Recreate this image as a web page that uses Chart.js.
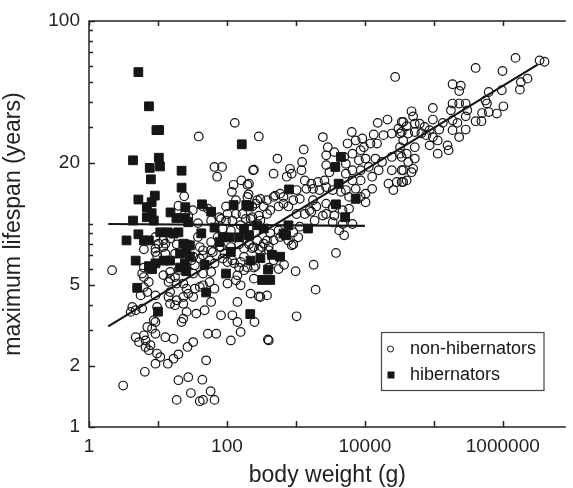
<!DOCTYPE html>
<html>
<head>
<meta charset="utf-8">
<title>Lifespan vs body weight</title>
<script src="https://cdn.jsdelivr.net/npm/chart.js@4.4.1/dist/chart.umd.min.js"></script>
<style>
  html, body { margin: 0; padding: 0; background: #fff; }
  #wrap { width: 573px; height: 488px; }
</style>
</head>
<body>
<div id="wrap"><canvas id="lifespan-chart" width="573" height="488"></canvas></div>
<script>
// Axis ticks (values) and which ones carry a label
const xTicks = [1, 10, 100, 1000, 10000, 100000, 1000000];
const xLabels = [1, 100, 10000, 1000000];
const yTicks = [1, 2, 3, 4, 5, 6, 7, 8, 9, 10, 20, 30, 40, 50, 60, 70, 80, 90, 100];
const yLabels = [1, 2, 5, 20, 100];

// Hibernators: body weight (g) and maximum lifespan (years)
const hibWeight = [5.2, 7.4, 9.5, 10.4, 4.35, 10.3, 7.6, 10.7, 7.9, 164, 22, 22, 9.0, 5.2, 8.1, 6.9, 8.1, 6.9, 8.7, 24.9,
  43.5, 59, 125, 191, 15.2, 4.35, 18.5, 24.9, 5.2, 3.5, 10.8, 13.8, 19.8, 42.5, 66, 275, 177, 6.25, 7.4, 87,
  108, 150, 4.75, 7.4, 9.2, 12.1, 15.0, 8.2, 20.9, 26, 29, 24.6, 25.7, 20.9, 23.3, 29, 47.5, 114, 97, 50,
  5.0, 10, 220, 218, 78, 306, 450, 590, 394, 324, 425, 660, 27.5, 16.8, 4500, 3730, 4170, 795, 7360, 3810,
  5180, 209, 342, 780, 1500, 720, 209];
const hibLifespan = [56, 38, 29, 29, 20.6, 21.2, 18.9, 19.2, 16.6, 24.7, 18.3, 15.1, 13.8, 13.2, 12.8, 12.1, 11.3, 10.8, 10.4, 12.1,
  12.5, 11.5, 12.4, 12.4, 11.4, 10.4, 10.7, 10.7, 8.9, 8.3, 9.1, 9.1, 9.1, 9.0, 9.6, 9.85, 9.4, 8.3, 8.3, 8.6,
  8.6, 8.6, 6.6, 6.2, 6.4, 6.6, 6.6, 6.0, 7.15, 7.4, 6.9, 6.4, 5.85, 6.1, 8.0, 7.85, 6.3, 7.3, 5.7, 4.6,
  4.85, 3.7, 6.6, 3.6, 8.15, 6.8, 7.05, 6.9, 5.96, 5.3, 5.3, 8.97, 10.2, 8.97, 21.4, 19.1, 15.8, 14.8, 13.3, 12.5,
  10.8, 12.2, 9.5, 9.85, 9.5, 8.8, 8.8];

// Non-hibernators: body weight (g) and maximum lifespan (years)
const nonHibWeight = [
  130, 290, 39, 540, 66, 85, 72, 246, 475, 125, 162, 198, 118, 206, 24, 19.8, 38, 306, 260, 501,
  590, 425, 561, 661, 97, 102, 135, 168, 78, 59, 233, 306, 381, 32, 27.5,
  2460, 6460, 15350, 21300, 34200, 30600, 13450, 18660, 24600, 32400, 7360, 9180, 5610, 12050, 15030, 2900, 3610, 2750, 5010, 6610,
  8690, 9680, 1300, 1230, 1205, 240, 820, 869, 736, 2750, 3060, 2600, 2090, 1675, 1345, 1420, 5300, 6610, 5300, 8200,
  10230, 14220, 17740, 24600, 32400, 8690, 11400, 12760, 15850, 12760, 10230, 8690, 10230, 22000, 25900, 36000, 29000, 34200, 24600, 1770,
  2200, 2750, 3420, 4500, 5300, 5910, 7360, 6610, 8690, 2750, 3420, 2750, 3610, 4750, 5910, 3420, 4750, 4250, 5010, 6610,
  2460, 1976, 1770, 1585, 1345, 1140, 1023, 918, 778, 661, 475, 381, 342, 275, 233, 290, 220, 1023, 1870, 1140,
  918, 1081, 778, 561, 425, 381, 275, 324, 233, 869, 1675, 209, 198,
  4.04e5, 1.53e6, 3.42e6, 4.03e6, 9.9e5, 1.87e5, 2.46e5, 2.33e5, 6.25e5, 9.68e5, 1.83e6, 2.28e6, 1.77e6, 96800, 47500, 1.87e5, 2.33e5, 2.9e5, 1.77e5, 3.06e5,
  5.61e5, 5.9e5, 1.02e6, 5.01e5, 6.25e5, 8.2e5, 4.04e5, 4.91e5, 1.87e5, 2.2e5, 2.9e5, 2.9e5, 2.33e5, 1.87e5, 1.35e5, 96800, 1.2e5, 36000, 40400, 50100,
  53000, 62500, 73600, 86900, 34200, 42500, 53000, 66000, 77800, 96800, 1.14e5, 86900, 53000, 36000, 32400, 1.14e5, 1.58e5, 1.64e5, 40400, 34200,
  53000, 42500, 50100, 47500, 36000, 40400, 34200, 27500,
  2.16, 24.6, 6.25, 9.2, 9.7, 12.8, 17.7, 6.25, 7.36, 6.25, 12, 14.2, 17.7, 19.8, 5.6, 9.2, 9.7, 15, 18.7, 17.7,
  4.25, 4.03, 5.9, 14.2, 23.3, 27.5, 34.2, 32.4, 45, 56, 66, 59, 82, 26, 23.3, 36, 47.5, 120, 142, 142,
  158, 220, 306, 381, 102, 135, 8.7, 7.0, 8.2, 6.25, 9.2, 6.6, 7.8, 7.36, 4.75, 5.3, 12.8, 16.8, 9.7, 10.8,
  9.2, 13.9, 6.45, 3.13, 19.8, 26.8, 32.4, 50, 53, 70, 114, 158, 404, 19.8, 27.5, 44, 30, 58, 18.7, 40.4,
  45, 66, 15, 12.8, 10.2, 9.2, 15.8, 9.2, 38, 45, 59, 73.6, 82, 92, 62.5, 102, 128, 158, 177, 246,
  342, 475, 590, 404, 475, 246, 177, 142, 246, 561, 404, 30.6, 34.2, 40.4,
  7.0, 4.75, 9.2, 15, 18.7, 15, 23.3, 40.4, 22, 16.8, 6.6, 12, 40.4, 59, 45, 32.4, 56, 66, 87, 120,
  150, 6.25, 5.9, 15, 32.4, 45, 59, 23.3, 26,
  290, 404, 918, 3810, 1810, 990, 674, 260, 198, 1930, 290, 251, 1023, 393,
  45, 53, 135, 187, 82, 97, 120, 87, 114, 158, 209, 12, 18.7, 27.5, 78, 114, 150, 177, 209
];
const nonHibLifespan = [
  31.5, 27, 27, 21, 19.1, 19.1, 17.1, 18.5, 17.7, 15.6, 16.4, 15.6, 14.4, 14, 13.7, 12.3, 10.1, 13.3, 12.6, 13.8,
  14.1, 11.7, 12.2, 12.6, 12.2, 11.2, 11.2, 11.2, 10.8, 10.4, 10.8, 10.4, 11.2, 11.7, 11.0,
  26.8, 28.4, 31.5, 32.7, 31.8, 29.5, 27.6, 27.4, 27.9, 27.9, 25.8, 26.4, 24.9, 24.9, 24.9, 23.9, 22.6, 21.8, 21.4, 22.2,
  23.1, 23.9, 23.3, 20.2, 18.4, 18.4, 18.7, 17.7, 17.1, 19.5, 18.0, 16.4, 16.1, 15.8, 16.4, 14.9, 19.8, 18.4, 17.7, 20.6,
  21.0, 21.0, 20.2, 21.4, 22.2, 18.4, 19.1, 17.1, 18.4, 14.9, 14.1, 13.6, 12.8, 15.8, 14.7, 16.1, 16.1, 18.4, 18.4, 14.9,
  14.7, 15.2, 14.7, 14.4, 14.7, 13.6, 14.9, 16.4, 16.4, 12.6, 12.1, 11.2, 11.0, 11.7, 11.9, 10.2, 10.0, 9.3, 8.8, 10.0,
  11.0, 12.2, 13.1, 11.7, 11.2, 13.3, 14.7, 13.1, 12.2, 13.6, 13.6, 13.1, 12.2, 13.1, 12.2, 11.0, 10.6, 11.2, 10.4, 9.7,
  9.1, 8.6, 8.3, 9.3, 9.0, 8.3, 8.3, 7.7, 7.6, 7.85, 11.5, 15.8, 13.6,
  58.7, 65.8, 64, 63, 56.7, 48.8, 48, 45.2, 44.7, 45.6, 50, 52, 45.9, 37.3, 35.9, 39.2, 39.2, 39.2, 36.3, 36.3,
  40.6, 39.2, 38, 35.2, 35.6, 35, 32.1, 32.1, 32.4, 31.5, 33.9, 29.2, 26.8, 29, 31.5, 32.7, 29.2, 31.8, 30.3, 33.9,
  31.2, 31.2, 30.1, 29, 28.4, 27.9, 28.4, 28.0, 27.4, 26.8, 25.8, 24.4, 23.9, 25.8, 23.9, 22.2, 24.4, 23.1, 22.2, 21.4,
  21.0, 20.2, 18.7, 18.0, 18.4, 16.4, 16.1, 53,
  5.92, 11.2, 7.5, 7.28, 7.0, 7.15, 7.15, 5.48, 5.18, 4.89, 5.6, 5.18, 5.48, 5.92, 4.45, 4.45, 3.9, 4.05, 4.21, 3.98,
  3.9, 3.69, 3.83, 4.37, 4.37, 4.54, 4.8, 4.37, 4.99, 5.18, 4.8, 4.13, 3.55, 3.69, 3.42, 3.62, 3.76, 3.55, 3.29, 4.13,
  4.99, 4.54, 4.37, 4.45, 5.09, 5.28, 3.36, 3.11, 3.05, 2.83, 2.88, 2.67, 2.53, 2.39, 2.77, 2.62, 2.77, 2.72, 2.30, 2.21,
  2.05, 2.05, 1.87, 1.60, 2.28, 2.48, 2.62, 2.13, 2.88, 2.88, 2.67, 2.94, 2.67, 1.70, 1.76, 1.71, 1.47, 1.50, 1.36, 1.34,
  1.36, 1.36, 8.47, 8.0, 8.0, 8.63, 9.0, 7.56, 8.63, 7.42, 8.15, 8.63, 7.7, 7.15, 7.28, 6.5, 6.4, 6.5, 6.9, 7.7,
  8.0, 8.32, 8.63, 7.42, 6.62, 6.1, 5.92, 5.59, 5.38, 6.0, 6.1, 6.62, 6.26, 6.75,
  4.62, 3.76, 3.29, 5.38, 5.09, 4.62, 4.05, 4.9, 3.29, 2.17, 2.48, 7.7, 7.7, 7.42, 7.01, 6.9, 6.62, 6.4, 6.76, 6.62,
  6.1, 6.1, 5.7, 5.8, 5.7, 5.7, 5.8, 5.09, 4.8,
  7.5, 7.76, 7.94, 7.2, 6.3, 5.85, 6.3, 6.2, 6.1, 4.75, 4.4, 3.29, 3.51, 2.7,
  12.2, 11.9, 13.1, 10.6, 10.6, 10.4, 10.4, 9.5, 9.3, 9.86, 9.67, 8.32, 7.94, 7.94, 7.7, 7.7, 7.94, 7.56, 7.94
];

// Fitted lines (end points): all species, and hibernators only
const nonHibFitWeight = [1.9, 3.2e6];
const nonHibFitLifespan = [3.13, 61];
const hibFitWeight = [1.9, 1.0e4];
const hibFitLifespan = [10.0, 9.8];

const zip = (xs, ys) => xs.map((v, i) => ({ x: v, y: ys[i] }));

const FONT = "'Liberation Sans', Arial, Helvetica, sans-serif";
const INK = '#161616';

// Frame, inward tick marks and the boxed legend
const framePlugin = {
    id: 'frame',
    afterDraw(chart) {
        const { ctx, chartArea: a, scales: { x, y } } = chart;
        ctx.save();
        ctx.strokeStyle = '#222';
        ctx.lineWidth = 1.5;
        ctx.beginPath();
        ctx.moveTo(a.right, a.top);
        ctx.lineTo(a.left, a.top);
        ctx.lineTo(a.left, a.bottom);
        ctx.lineTo(a.right, a.bottom);
        xTicks.forEach(v => {
            const px = Math.round(x.getPixelForValue(v)) + 0.5;
            ctx.moveTo(px, a.bottom);
            ctx.lineTo(px, a.bottom - 6);
            ctx.moveTo(px, a.top);
            ctx.lineTo(px, a.top + 5);
        });
        yTicks.forEach(v => {
            const py = Math.round(y.getPixelForValue(v)) + 0.5;
            const len = yLabels.includes(v) ? 6 : 4;
            ctx.moveTo(a.left, py);
            ctx.lineTo(a.left + len, py);
        });
        ctx.stroke();

        // legend
        ctx.lineWidth = 1.2;
        ctx.strokeStyle = '#444';
        ctx.strokeRect(381.5, 332.5, 162.5, 58);
        ctx.strokeStyle = INK;
        ctx.lineWidth = 1;
        ctx.beginPath();
        ctx.arc(390.5, 349, 3, 0, Math.PI * 2);
        ctx.stroke();
        ctx.fillStyle = INK;
        ctx.fillRect(387.5, 371.5, 7, 7);
        ctx.font = '18px ' + FONT;
        ctx.textBaseline = 'middle';
        ctx.textAlign = 'left';
        ctx.fillText('non-hibernators', 410, 349);
        ctx.fillText('hibernators', 410, 375);
        ctx.restore();
    }
};

new Chart(document.getElementById('lifespan-chart'), {
    type: 'scatter',
    data: {
        datasets: [
            {
                type: 'line',
                label: 'fit all',
                data: zip(nonHibFitWeight, nonHibFitLifespan),
                borderColor: INK,
                borderWidth: 2.2,
                pointRadius: 0,
                fill: false,
                order: 0
            },
            {
                type: 'line',
                label: 'fit hibernators',
                data: zip(hibFitWeight, hibFitLifespan),
                borderColor: INK,
                borderWidth: 2.2,
                pointRadius: 0,
                fill: false,
                order: 0
            },
            {
                label: 'hibernators',
                data: zip(hibWeight, hibLifespan),
                pointStyle: 'rect',
                pointRadius: 6.2,
                borderWidth: 1,
                borderColor: INK,
                backgroundColor: INK,
                order: 1
            },
            {
                label: 'non-hibernators',
                data: zip(nonHibWeight, nonHibLifespan),
                pointStyle: 'circle',
                pointRadius: 4.3,
                borderWidth: 1.2,
                borderColor: INK,
                backgroundColor: 'rgba(0,0,0,0)',
                order: 2
            }
        ]
    },
    options: {
        responsive: false,
        animation: false,
        devicePixelRatio: 1,
        layout: { padding: { top: 21, right: 0, left: 0, bottom: 0 } },
        plugins: {
            legend: { display: false },
            tooltip: { enabled: false }
        },
        scales: {
            x: {
                type: 'logarithmic',
                min: 1,
                max: 8.2e6,
                afterBuildTicks: scale => { scale.ticks = xTicks.map(v => ({ value: v })); },
                afterFit: scale => { scale.height = 61; },
                grid: { display: false, drawTicks: false },
                border: { display: false },
                ticks: {
                    autoSkip: false,
                    maxRotation: 0,
                    padding: 8,
                    color: '#222',
                    font: { family: FONT, size: 19 },
                    callback: value => xLabels.includes(value) ? String(value) : ''
                },
                title: {
                    display: true,
                    text: 'body weight (g)',
                    color: '#222',
                    font: { family: FONT, size: 23 },
                    padding: { top: 0, bottom: -1 }
                }
            },
            y: {
                type: 'logarithmic',
                min: 1,
                max: 100,
                afterBuildTicks: scale => { scale.ticks = yTicks.map(v => ({ value: v })); },
                afterFit: scale => { scale.width = 89; },
                grid: { display: false, drawTicks: false },
                border: { display: false },
                ticks: {
                    autoSkip: false,
                    padding: 9,
                    color: '#222',
                    font: { family: FONT, size: 19 },
                    callback: value => yLabels.includes(value) ? String(value) : ''
                },
                title: {
                    display: true,
                    text: 'maximum lifespan (years)',
                    color: '#222',
                    font: { family: FONT, size: 23 },
                    padding: { top: 0, bottom: 0 }
                }
            }
        }
    },
    plugins: [framePlugin]
});
</script>
</body>
</html>
